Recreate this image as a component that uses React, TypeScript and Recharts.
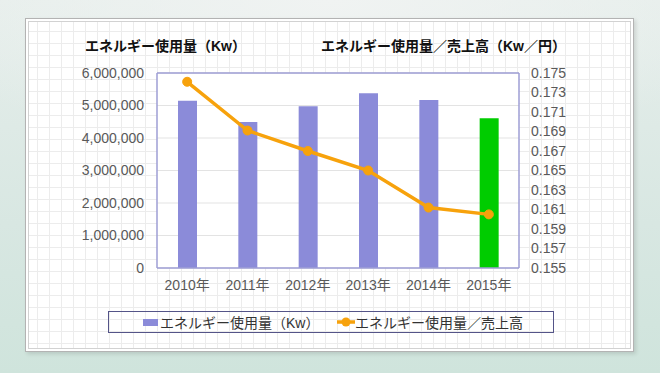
import React from 'react';
import { ComposedChart, Bar, Line, XAxis, YAxis, CartesianGrid, Cell, ReferenceLine } from 'recharts';

const years = ['2010年', '2011年', '2012年', '2013年', '2014年', '2015年'];
const energyKw = [5150000, 4490000, 4980000, 5380000, 5170000, 4610000];
const energyPerSales = [0.1741, 0.1691, 0.167, 0.165, 0.1612, 0.1605];
const leftTicks = [0, 1000000, 2000000, 3000000, 4000000, 5000000, 6000000];
const rightTicks = [0.155, 0.157, 0.159, 0.161, 0.163, 0.165, 0.167, 0.169, 0.171, 0.173, 0.175];
const barColors = ['#8b8bd9', '#8b8bd9', '#8b8bd9', '#8b8bd9', '#8b8bd9', '#00cc00'];

const leftTitle = 'エネルギー使用量（Kw）';
const rightTitle = 'エネルギー使用量／売上高（Kw／円）';
const barLegend = 'エネルギー使用量（Kw）';
const lineLegend = 'エネルギー使用量／売上高';

const data = years.map((y, i) => ({ year: y, kw: energyKw[i], ratio: energyPerSales[i] }));

const FONT = "'Liberation Sans', Arial, 'Noto Sans CJK JP', sans-serif";
const ORANGE = '#f7a20c';
const AXIS = '#9e9ed4';

export default function App() {
  return (
    <div style={{ position: 'absolute', left: 0, top: 0, width: 660, height: 373, overflow: 'hidden', fontFamily: FONT,
      background: 'radial-gradient(ellipse 70% 40% at 50% 0%, #f0f3f2 0%, rgba(240,243,242,0) 100%), linear-gradient(to bottom, #e6eeeb 0%, #d8e7e2 60%, #cfe4dc 100%)' }}>
      <div style={{ position: 'absolute', left: 25, top: 18, width: 609, height: 334, boxSizing: 'border-box',
        border: '1px solid #b3b3b3', background: '#fff', padding: 2, boxShadow: '2px 2px 4px rgba(0,0,0,0.12)' }}>
        <div style={{ width: '100%', height: '100%', boxSizing: 'border-box', border: '1px solid #d2d2d2',
          backgroundColor: '#fff',
          backgroundImage: 'linear-gradient(to right, #ececec 1px, transparent 1px), linear-gradient(to bottom, #ececec 1px, transparent 1px)',
          backgroundSize: '12px 12px', backgroundPosition: '8px 9px' }} />
      </div>
      <div style={{ position: 'absolute', left: 0, top: 0 }}>
        <ComposedChart width={660} height={373} data={data} margin={{ top: 73, right: 41, bottom: 75, left: 10 }}>
          <CartesianGrid yAxisId="left" vertical={false} stroke="#e3e3e3" fill="#ffffff" fillOpacity={1} />
          <XAxis dataKey="year" height={30} tickLine={false} axisLine={{ stroke: AXIS, strokeWidth: 1.5 }}
            tickMargin={6} tick={{ fill: '#595959', fontSize: 14, fontFamily: FONT }} interval={0} />
          <YAxis yAxisId="left" orientation="left" width={147} domain={[0, 6000000]} ticks={leftTicks}
            tickFormatter={(v: number) => v.toLocaleString('en-US')} tickLine={false} tickMargin={7}
            axisLine={{ stroke: AXIS, strokeWidth: 1.5 }} tick={{ fill: '#595959', fontSize: 14, fontFamily: FONT }} />
          <YAxis yAxisId="right" orientation="right" width={100} domain={[0.155, 0.175]} ticks={rightTicks}
            tickFormatter={(v: number) => v.toFixed(3)} tickLine={false} tickMargin={6} interval={0}
            axisLine={{ stroke: AXIS, strokeWidth: 1.5 }} tick={{ fill: '#595959', fontSize: 14, fontFamily: FONT, textAnchor: 'start' }} />
          <ReferenceLine yAxisId="left" y={6000000} stroke={AXIS} strokeWidth={1.5} />
          <Bar yAxisId="left" dataKey="kw" barSize={19} isAnimationActive={false}>
            {data.map((d, i) => <Cell key={d.year} fill={barColors[i]} />)}
          </Bar>
          <Line yAxisId="right" dataKey="ratio" stroke={ORANGE} strokeWidth={3.5} isAnimationActive={false}
            dot={{ r: 4.5, fill: ORANGE, stroke: ORANGE, strokeWidth: 1 }} />
        </ComposedChart>
      </div>
      <div style={{ position: 'absolute', left: 85, top: 36, lineHeight: '20px', fontSize: 14, fontWeight: 'bold', color: '#111', whiteSpace: 'nowrap' }}>{leftTitle}</div>
      <div style={{ position: 'absolute', left: 321, top: 36, lineHeight: '20px', fontSize: 14, fontWeight: 'bold', color: '#111', whiteSpace: 'nowrap' }}>{rightTitle}</div>
      <div style={{ position: 'absolute', left: 108, top: 311, width: 446, height: 22, boxSizing: 'border-box', border: '1px solid #545488' }}>
        <div style={{ position: 'absolute', left: 34, top: 0, height: 20, display: 'flex', alignItems: 'center', whiteSpace: 'nowrap', fontSize: 14, color: '#333' }}>
          <span style={{ display: 'inline-block', width: 15, height: 7, background: '#8b8bd9', marginRight: 2 }} />
          <span>{barLegend}</span>
        </div>
        <div style={{ position: 'absolute', left: 228, top: 0, height: 20, display: 'flex', alignItems: 'center', whiteSpace: 'nowrap', fontSize: 14, color: '#333' }}>
          <svg width={18} height={10} style={{ marginRight: 0 }}>
            <line x1={0} y1={5} x2={18} y2={5} stroke={ORANGE} strokeWidth={3.5} />
            <circle cx={9} cy={5} r={4.5} fill={ORANGE} />
          </svg>
          <span>{lineLegend}</span>
        </div>
      </div>
    </div>
  );
}
